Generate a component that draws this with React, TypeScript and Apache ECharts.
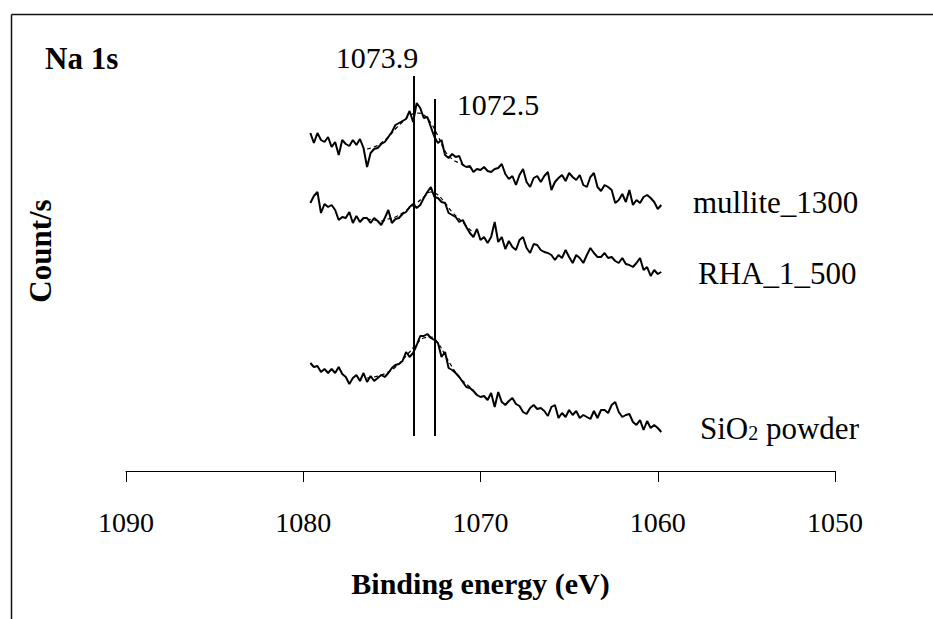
import React, { useEffect, useRef } from "react";
import * as echarts from "echarts";

// Binding energies (eV), shared by the three spectra
const energies = [
  1079.6, 1079.4, 1079.2, 1079.0, 1078.8, 1078.6, 1078.4, 1078.2, 1078.0, 1077.8,
  1077.6, 1077.4, 1077.2, 1077.0, 1076.8, 1076.6, 1076.4, 1076.2, 1076.0, 1075.8,
  1075.6, 1075.4, 1075.2, 1075.0, 1074.8, 1074.6, 1074.4, 1074.2, 1074.0, 1073.8,
  1073.6, 1073.4, 1073.2, 1073.0, 1072.8, 1072.6, 1072.4, 1072.2, 1072.0, 1071.8,
  1071.6, 1071.4, 1071.2, 1071.0, 1070.8, 1070.6, 1070.4, 1070.2, 1070.0, 1069.8,
  1069.6, 1069.4, 1069.2, 1069.0, 1068.8, 1068.6, 1068.4, 1068.2, 1068.0, 1067.8,
  1067.6, 1067.4, 1067.2, 1067.0, 1066.8, 1066.6, 1066.4, 1066.2, 1066.0, 1065.8,
  1065.6, 1065.4, 1065.2, 1065.0, 1064.8, 1064.6, 1064.4, 1064.2, 1064.0, 1063.8,
  1063.6, 1063.4, 1063.2, 1063.0, 1062.8, 1062.6, 1062.4, 1062.2, 1062.0, 1061.8,
  1061.6, 1061.4, 1061.2, 1061.0, 1060.8, 1060.6, 1060.4, 1060.2, 1060.0, 1059.8,
];

// Counts (arbitrary units, offset spectra)
const mullite1300 = [
  338, 328, 338, 331, 329, 334, 324, 329, 316, 331,
  327, 325, 331, 326, 332, 323, 304, 318, 322, 323,
  327, 329, 334, 339, 346, 348, 350, 352, 360, 349,
  368, 363, 353, 354, 344, 334, 328, 331, 316, 313,
  317, 314, 315, 306, 304, 305, 299, 302, 301, 304,
  300, 299, 302, 303, 307, 297, 292, 295, 286, 296,
  302, 289, 284, 293, 295, 289, 295, 299, 281, 289,
  293, 296, 290, 298, 294, 291, 296, 286, 284, 294,
  298, 284, 280, 286, 284, 281, 268, 271, 277, 269,
  281, 266, 271, 268, 274, 276, 273, 269, 262, 266,
];

const rha1500 = [
  268, 275, 279, 258, 267, 264, 266, 261, 251, 254,
  253, 259, 248, 255, 249, 253, 253, 248, 253, 250,
  246, 253, 261, 248, 252, 253, 257, 259, 264, 267,
  263, 266, 273, 279, 284, 274, 273, 269, 268, 258,
  256, 254, 249, 251, 244, 238, 234, 242, 231, 234,
  228, 234, 249, 229, 234, 222, 230, 224, 221, 231,
  234, 223, 218, 227, 226, 221, 219, 218, 216, 211,
  216, 213, 221, 214, 208, 216, 213, 208, 216, 223,
  218, 214, 214, 218, 213, 214, 210, 208, 213, 207,
  206, 204, 208, 213, 201, 204, 195, 201, 197, 199,
];

const sio2Powder = [
  108, 104, 105, 99, 102, 98, 102, 98, 104, 97,
  94, 87, 93, 96, 90, 98, 89, 95, 90, 93,
  96, 94, 98, 103, 106, 107, 110, 119, 114, 118,
  126, 135, 135, 137, 133, 131, 128, 114, 119, 103,
  101, 98, 94, 89, 84, 83, 80, 76, 74, 75,
  71, 78, 64, 79, 69, 66, 70, 73, 67, 65,
  59, 57, 63, 66, 62, 63, 60, 55, 64, 66,
  53, 58, 54, 61, 56, 60, 53, 56, 54, 52,
  60, 53, 61, 61, 58, 66, 69, 59, 54, 56,
  57, 49, 46, 51, 41, 50, 43, 46, 43, 39,
];

// Fitted envelopes (dashed)
const fitEnergies = [
  1076.4, 1076.0, 1075.6, 1075.2, 1074.8, 1074.4, 1074.0, 1073.6,
  1073.2, 1072.8, 1072.4, 1072.0, 1071.6, 1071.2, 1070.8, 1070.4,
];
const mulliteFit = [322, 324, 328, 334, 342, 349, 355, 358, 356, 348, 335, 320, 312, 308, 305, 302];
const rhaFit = [252, 251, 250, 252, 254, 258, 263, 268, 274, 279, 276, 268, 259, 252, 245, 238];
const sio2Fit = [93, 94, 96, 99, 104, 111, 119, 127, 133, 134, 128, 116, 104, 94, 87, 81];

// Reference peak lines
const peakPositions = [1073.75, 1072.6];
const peakTops = [395, 372];
const peakBottom = 35;
const peakLabels = ["1073.9", "1072.5"];

const seriesNames = ["mullite_1300", "RHA_1_500", "SiO2 powder"];

const SERIF = '"Liberation Serif", "Times New Roman", serif';

function pairs(xs: number[], ys: number[]) {
  return xs.map((x, i) => [x, ys[i]]);
}

export default function App() {
  const ref = useRef<HTMLDivElement>(null);

  useEffect(() => {
    if (!ref.current) return;
    const chart = echarts.init(ref.current, undefined, { renderer: "svg" });

    const lineSeries = (name: string, ys: number[]) => ({
      name,
      type: "line",
      data: pairs(energies, ys),
      showSymbol: false,
      symbol: "none",
      lineStyle: { color: "#000", width: 2 },
      z: 3,
    });
    const fitSeries = (name: string, ys: number[]) => ({
      name: name + " fit",
      type: "line",
      data: pairs(fitEnergies, ys),
      showSymbol: false,
      symbol: "none",
      smooth: true,
      lineStyle: { color: "#000", width: 1.2, type: [4, 3] },
      z: 2,
    });

    const main: any = lineSeries(seriesNames[0], mullite1300);
    main.markLine = {
      silent: true,
      symbol: "none",
      label: { show: false },
      lineStyle: { color: "#000", width: 2, type: "solid" },
      data: peakPositions.map((p, i) => [
        { coord: [p, peakBottom] },
        { coord: [p, peakTops[i]] },
      ]),
    };

    chart.setOption({
      animation: false,
      backgroundColor: "#fff",
      grid: { left: 126, right: 98, top: 71, bottom: 148 },
      xAxis: {
        type: "value",
        min: 1050,
        max: 1090,
        interval: 10,
        inverse: true,
        axisLine: { lineStyle: { color: "#000", width: 1 } },
        axisTick: { length: 11, lineStyle: { color: "#000", width: 1 } },
        axisLabel: {
          fontFamily: SERIF,
          fontSize: 28,
          color: "#000",
          margin: 37,
          formatter: (v: number) => String(v),
        },
        splitLine: { show: false },
        name: "Binding energy (eV)",
        nameLocation: "middle",
        nameGap: 97,
        nameTextStyle: { fontFamily: SERIF, fontSize: 30, fontWeight: "bold", color: "#000" },
      },
      yAxis: { type: "value", min: 0, max: 400, show: false },
      series: [
        main,
        lineSeries(seriesNames[1], rha1500),
        lineSeries(seriesNames[2], sio2Powder),
        fitSeries(seriesNames[0], mulliteFit),
        fitSeries(seriesNames[1], rhaFit),
        fitSeries(seriesNames[2], sio2Fit),
      ],
      graphic: [
        { type: "line", shape: { x1: 11.5, y1: 14.5, x2: 933, y2: 14.5 }, style: { stroke: "#111", lineWidth: 1.5 } },
        { type: "line", shape: { x1: 11.5, y1: 14.5, x2: 11.5, y2: 619 }, style: { stroke: "#111", lineWidth: 1.5 } },
        {
          type: "text", x: 45, y: 58,
          style: { text: "Na 1s", fontFamily: SERIF, fontSize: 31, fontWeight: "bold", fill: "#000", align: "left", verticalAlign: "middle" },
        },
        {
          type: "text", x: 40, y: 251, rotation: Math.PI / 2,
          style: { text: "Count/s", fontFamily: SERIF, fontSize: 31, fontWeight: "bold", fill: "#000", align: "center", verticalAlign: "middle" },
        },
        {
          type: "text", x: 377, y: 57,
          style: { text: peakLabels[0], fontFamily: SERIF, fontSize: 30, fill: "#000", align: "center", verticalAlign: "middle" },
        },
        {
          type: "text", x: 498, y: 104,
          style: { text: peakLabels[1], fontFamily: SERIF, fontSize: 30, fill: "#000", align: "center", verticalAlign: "middle" },
        },
        {
          type: "text", x: 693, y: 202,
          style: { text: seriesNames[0], fontFamily: SERIF, fontSize: 31, fill: "#000", align: "left", verticalAlign: "middle" },
        },
        {
          type: "text", x: 698, y: 273,
          style: { text: seriesNames[1], fontFamily: SERIF, fontSize: 31, fill: "#000", align: "left", verticalAlign: "middle" },
        },
        {
          type: "text", x: 700, y: 428,
          style: {
            text: "{a|SiO}{b|2}{a| powder}",
            align: "left",
            verticalAlign: "middle",
            rich: {
              a: { fontFamily: SERIF, fontSize: 31, lineHeight: 30, fill: "#000" },
              b: { fontFamily: SERIF, fontSize: 20, lineHeight: 14, padding: [10, 0, 0, 0], fill: "#000", verticalAlign: "bottom" },
            },
          },
        },
      ],
    });

    return () => chart.dispose();
  }, []);

  return (
    <div
      ref={ref}
      style={{ position: "fixed", left: 0, top: 0, width: 933, height: 619, background: "#fff" }}
    />
  );
}
